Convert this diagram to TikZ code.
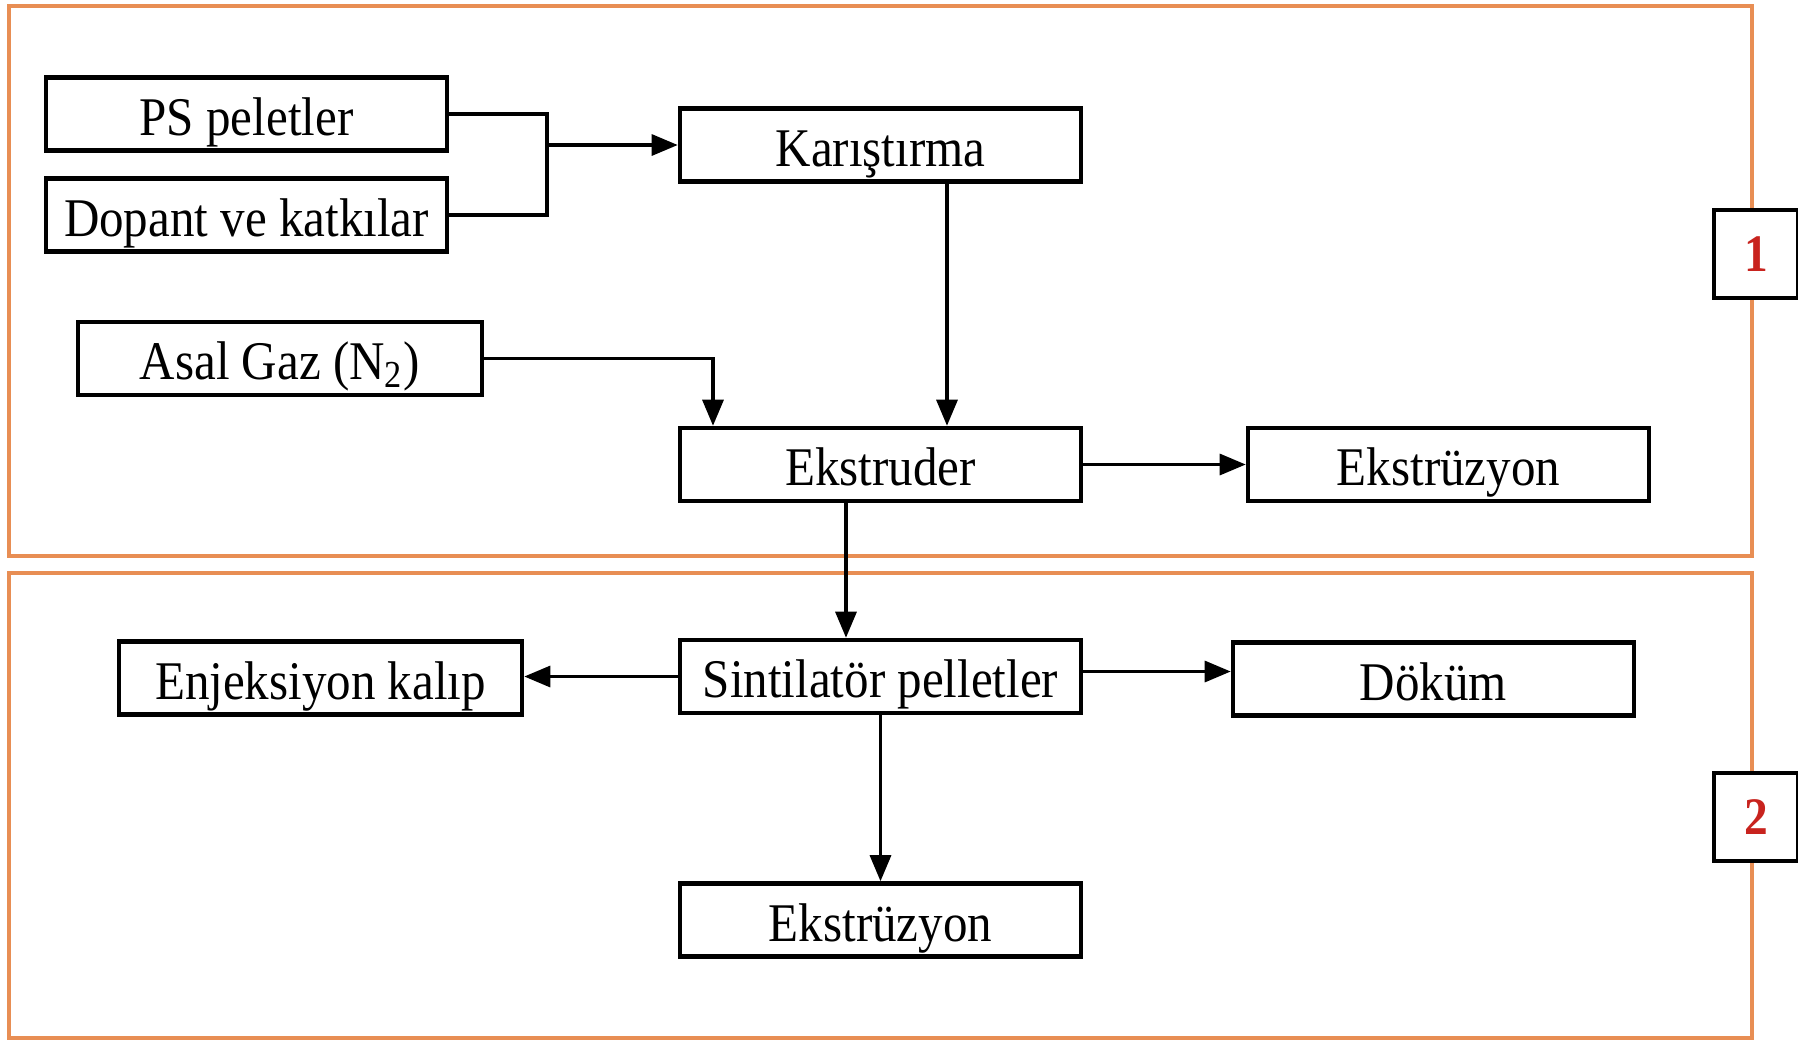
\documentclass[tikz,border=0pt]{standalone}
\usepackage{fontspec}
\setmainfont[FakeStretch=0.9]{Liberation Serif}
\usepackage{tikz}
\usetikzlibrary{arrows.meta}
\definecolor{frame-orange}{RGB}{232,142,84}
\definecolor{num-red}{RGB}{200,35,30}

\tikzset{
  stepbox/.style={draw, line width=1.3pt, rectangle, minimum width=4.01cm, minimum height=0.73cm, inner sep=0pt, text height=0.44cm, text depth=0.02cm, font=\fontsize{15.5}{18}\selectfont},
  numbox/.style={draw, line width=1.2pt, fill=white, rectangle, minimum width=0.84cm, minimum height=0.88cm, inner sep=0pt, text=num-red, font=\fontsize{15}{18}\selectfont\bfseries},
  flow/.style={line width=0.9pt, -{Triangle[length=2.6mm,width=2.1mm]}},
  feed/.style={line width=0.9pt}
}

\begin{document}
\begin{tikzpicture}
\useasboundingbox (0,0) rectangle (17.98,-10.41);
% stage frames
\draw [frame-orange, line width=1.2pt] (0.09,-0.06) rectangle (17.52,-5.56);
\draw [frame-orange, line width=1.2pt] (0.09,-5.73) rectangle (17.52,-10.38);

% stage 1
\node [stepbox] (ps) at (2.465,-1.14) {PS peletler};
\node [stepbox] (dop) at (2.465,-2.15) {Dopant ve katkılar};
\node [stepbox] (kar) at (8.805,-1.45) {Karıştırma};
\node [stepbox, minimum width=4.04cm] (asal) at (2.80,-3.585) {Asal Gaz (N\textsubscript{2})};
\node [stepbox] (ekst) at (8.805,-4.645) {Ekstruder};
\node [stepbox] (ekz1) at (14.485,-4.645) {Ekstrüzyon};
\node [numbox] (n1) at (17.56,-2.54) {1};

% stage 2
\node [stepbox] (sin) at (8.805,-6.765) {Sintilatör pelletler};
\node [stepbox, minimum width=4.03cm] (enj) at (3.205,-6.78) {Enjeksiyon kalıp};
\node [stepbox] (dok) at (14.335,-6.79) {Döküm};
\node [stepbox] (ekz2) at (8.805,-9.20) {Ekstrüzyon};
\node [numbox] (n2) at (17.56,-8.17) {2};

\coordinate (join) at (5.47,-1.45);
\draw [feed] (ps.east) -| (join) |- (dop.east);
\draw [flow] (join) -- (kar.west);
\draw [flow] ([xshift=0.665cm]kar.south) -- ([xshift=0.665cm]ekst.north);
\draw [flow] (asal.east) -| ([xshift=-1.675cm]ekst.north);
\draw [flow] (ekst.east) -- (ekz1.west);
\draw [flow] ([xshift=-0.345cm]ekst.south) -- ([xshift=-0.345cm]sin.north);
\draw [flow] (sin.west) -- (sin.west -| enj.east);
\draw [flow] ([yshift=0.05cm]sin.east) -- ([yshift=0.05cm]sin.east -| dok.west);
\draw [flow] (sin.south) -- (ekz2.north);
\end{tikzpicture}
\end{document}
